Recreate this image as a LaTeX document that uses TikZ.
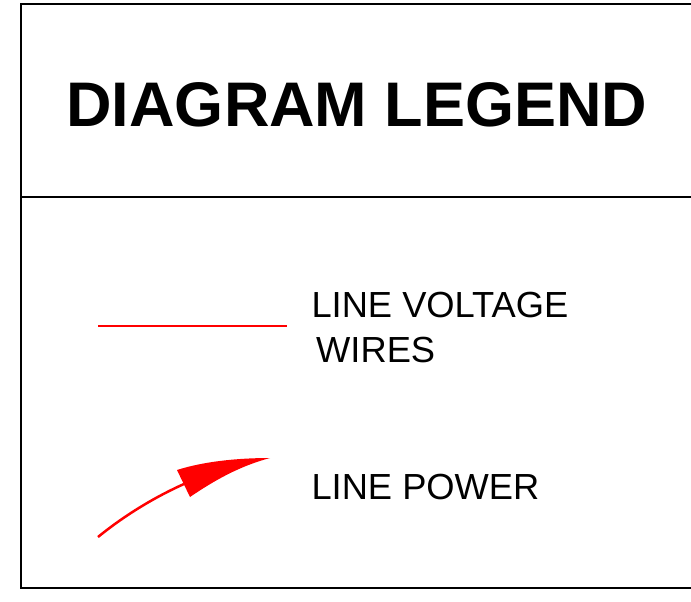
\documentclass[tikz,border=0pt]{standalone}
\usepackage{fontspec}
\setmainfont{Liberation Sans}
\begin{document}
\begin{tikzpicture}[x=1pt,y=-1pt,
  frame/.style={line width=2.4pt,black},
  wire/.style={line width=2.5pt,red},
  legendtext/.style={anchor=base west,inner sep=0pt,font=\fontsize{36.3}{43}\selectfont},
  titletext/.style={anchor=base,inner sep=0pt,font=\fontsize{63}{76}\bfseries\selectfont}]
\useasboundingbox (0,0) rectangle (691,602);
% frame
\coordinate (tl) at (21,4);
\coordinate (tr) at (691,4);
\coordinate (bl) at (21,588);
\coordinate (br) at (691,588);
\coordinate (ml) at (21,197);
\coordinate (mr) at (691,197);
\draw[frame,line width=1.8pt] (tl) -- (tr);
\draw[frame,line cap=rect] (tl) -- (bl) -- (br);
\draw[frame,line width=2pt] (ml) -- (mr);
% title
\node[titletext] (title) at (357,126) {DIAGRAM LEGEND};
% line voltage wires
\coordinate (w1) at (98,326);
\coordinate (w2) at (287,326);
\draw[wire] (w1) -- (w2);
\node[legendtext] (lv) at (311.3,317) {LINE VOLTAGE};
\node[legendtext] (wr) at (316,362) {WIRES};
% line power arrow
\coordinate (a0) at (98,537);
\coordinate (a1) at (184,484);
\coordinate (hb1) at (177,470);
\coordinate (hb2) at (190,497);
\coordinate (tip) at (270,458);
\draw[wire] (a0) .. controls (125,515) and (155,497) .. (a1);
\fill[red] (hb1) .. controls (205,461) and (240,458) .. (tip)
  .. controls (240,466) and (215,480) .. (hb2) -- cycle;
\node[legendtext] (lp) at (311.3,499.5) {LINE POWER};
\end{tikzpicture}
\end{document}
